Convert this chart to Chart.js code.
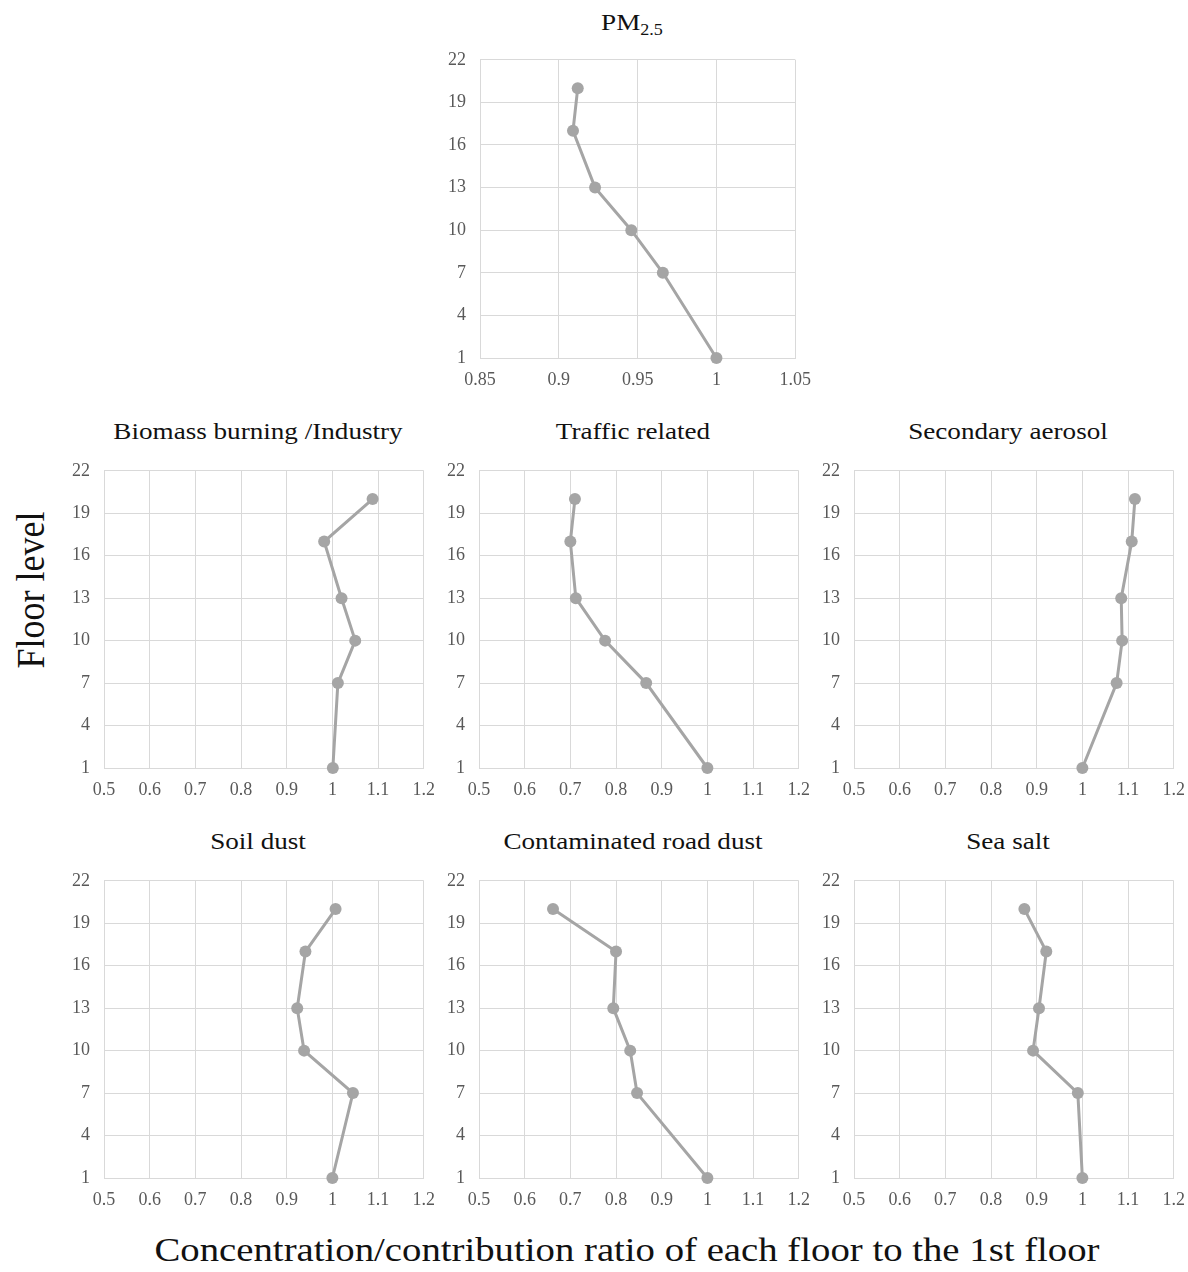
<!DOCTYPE html>
<html>
<head>
<meta charset="utf-8">
<script src="https://cdn.jsdelivr.net/npm/chart.js@4.4.1/dist/chart.umd.min.js"></script>
<style>
  html, body { margin: 0; padding: 0; background: #ffffff; }
  #wrap { position: relative; width: 1188px; height: 1272px; overflow: hidden; background: #fff; }
  .box { position: absolute; }
  .ttl { position: absolute; transform: translateX(-50%) scaleX(1.13); white-space: nowrap;
         font-family: "Liberation Serif", serif; font-size: 24px; line-height: 30px; color: #111; }
  .ttl sub { font-size: 16px; vertical-align: -5px; line-height: 0; }
  #ylab { position: absolute; left: 30px; top: 590px; transform: translate(-50%, -50%) rotate(-90deg) scaleY(1.13);
          white-space: nowrap; font-family: "Liberation Serif", serif; font-size: 36px; color: #111; }
  #xlab { position: absolute; left: 627px; top: 1250px; transform: translate(-50%, -50%) scaleX(1.14);
          white-space: nowrap; font-family: "Liberation Serif", serif; font-size: 34px; color: #111; }
</style>
</head>
<body>
<div id="wrap">
  <div id="ylab">Floor level</div>
  <div id="xlab">Concentration/contribution ratio of each floor to the 1st floor</div>
</div>
<script>
// ---- data ----
const floors = [1, 7, 10, 13, 17, 20];
const yTicks = [1, 4, 7, 10, 13, 16, 19, 22];
const xTicksPM = [0.85, 0.9, 0.95, 1, 1.05];
const xTicksSrc = [0.5, 0.6, 0.7, 0.8, 0.9, 1, 1.1, 1.2];

const pm25 = [1.000, 0.966, 0.946, 0.923, 0.909, 0.912];
const biomass = [1.001, 1.012, 1.050, 1.020, 0.982, 1.088];
const traffic = [1.000, 0.866, 0.776, 0.712, 0.700, 0.710];
const secondary = [1.000, 1.075, 1.087, 1.085, 1.108, 1.115];
const soilDust = [1.000, 1.045, 0.938, 0.923, 0.941, 1.007];
const roadDust = [1.000, 0.846, 0.831, 0.794, 0.800, 0.662];
const seaSalt = [1.000, 0.990, 0.892, 0.905, 0.921, 0.873];

const titles = ['PM<sub>2.5</sub>', 'Biomass burning /Industry', 'Traffic related', 'Secondary aerosol',
                'Soil dust', 'Contaminated road dust', 'Sea salt'];

// ---- layout (plot areas) ----
const panels = [
  { vals: pm25,      ticks: xTicksPM,  l: 480,   r: 795,  t: 60,    b: 358.3, tx: 632,    ty: 23 },
  { vals: biomass,   ticks: xTicksSrc, l: 104.3, r: 424,  t: 470.7, b: 768.3, tx: 257.5,  ty: 432 },
  { vals: traffic,   ticks: xTicksSrc, l: 479.3, r: 799.3,t: 470.7, b: 768.3, tx: 633,    ty: 432 },
  { vals: secondary, ticks: xTicksSrc, l: 854.3, r: 1174, t: 470.7, b: 768.3, tx: 1007.5, ty: 432 },
  { vals: soilDust,  ticks: xTicksSrc, l: 104.3, r: 424,  t: 880.7, b: 1178.3,tx: 257.5,  ty: 842 },
  { vals: roadDust,  ticks: xTicksSrc, l: 479.3, r: 799.3,t: 880.7, b: 1178.3,tx: 633,    ty: 842 },
  { vals: seaSalt,   ticks: xTicksSrc, l: 854.3, r: 1174, t: 880.7, b: 1178.3,tx: 1007.5, ty: 842 }
];

const YW = 50, XH = 40, PT = 10, PR = 14;
const wrap = document.getElementById('wrap');
const tickFont = { family: 'Liberation Serif', size: 18 };
const GRID = '#d9d9d9', LINE = '#a5a5a5';

function makeChart(p, w, h) {
  const box = document.createElement('div');
  box.className = 'box';
  box.style.left = (p.l - YW) + 'px';
  box.style.top = (p.t - PT) + 'px';
  const cv = document.createElement('canvas');
  cv.width = w; cv.height = h;
  cv.style.width = w + 'px'; cv.style.height = h + 'px';
  box.appendChild(cv);
  wrap.appendChild(box);
  const xt = p.ticks;
  const chart = new Chart(cv.getContext('2d'), {
    type: 'scatter',
    data: {
      datasets: [{
        data: floors.map((f, k) => ({ x: p.vals[k], y: f })),
        showLine: true,
        borderColor: LINE,
        borderWidth: 3,
        backgroundColor: LINE,
        pointBackgroundColor: LINE,
        pointBorderWidth: 0,
        pointRadius: 6,
        tension: 0,
        clip: false
      }]
    },
    options: {
      responsive: false,
      animation: false,
      devicePixelRatio: 1,
      layout: { padding: { top: PT, right: PR, left: 0, bottom: 0 } },
      plugins: { legend: { display: false }, tooltip: { enabled: false } },
      scales: {
        x: {
          type: 'linear',
          min: xt[0], max: xt[xt.length - 1],
          afterBuildTicks: s => { s.ticks = xt.map(v => ({ value: v })); },
          afterFit: s => { s.height = XH; },
          grid: { color: GRID, lineWidth: 1, drawTicks: false },
          border: { color: GRID, width: 1 },
          ticks: { font: tickFont, color: '#595959', padding: 11, maxRotation: 0,
                   callback: v => String(+v.toFixed(2)) }
        },
        y: {
          type: 'linear',
          min: yTicks[0], max: yTicks[yTicks.length - 1],
          afterBuildTicks: s => { s.ticks = yTicks.map(v => ({ value: v })); },
          afterFit: s => { s.width = YW; },
          grid: { color: GRID, lineWidth: 1, drawTicks: false },
          border: { color: GRID, width: 1 },
          ticks: { font: tickFont, color: '#595959', padding: 14 }
        }
      }
    }
  });
  return { chart, box };
}

panels.forEach((p, i) => {
  const t = document.createElement('div');
  t.className = 'ttl';
  t.innerHTML = titles[i];
  t.style.left = p.tx + 'px';
  t.style.top = (p.ty - 16) + 'px';
  wrap.appendChild(t);

  let w = Math.round(YW + (p.r - p.l) + PR);
  let h = Math.round(PT + (p.b - p.t) + XH);
  let res = makeChart(p, w, h);
  let ca = res.chart.chartArea;
  const dw = Math.round((p.r - p.l) - (ca.right - ca.left));
  const dh = Math.round((p.b - p.t) - (ca.bottom - ca.top));
  if (dw !== 0 || dh !== 0) {
    res.chart.destroy();
    res.box.remove();
    res = makeChart(p, w + dw, h + dh);
    ca = res.chart.chartArea;
  }
  res.box.style.left = (p.l - ca.left) + 'px';
  res.box.style.top = (p.t - ca.top) + 'px';
});
</script>
</body>
</html>
